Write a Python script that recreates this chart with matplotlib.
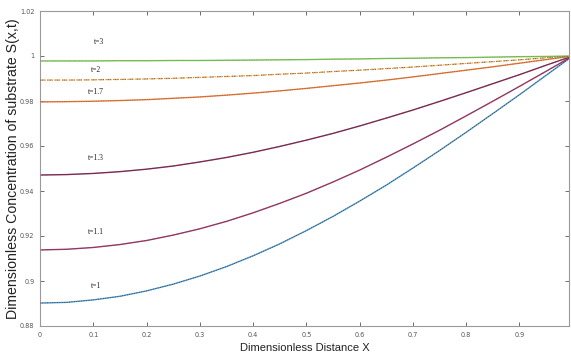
import matplotlib
matplotlib.use("Agg")
import matplotlib.pyplot as plt

# Dimensionless distance samples
x = [0.0, 0.05, 0.1, 0.15, 0.2, 0.25, 0.3, 0.35, 0.4, 0.45, 0.5,
     0.55, 0.6, 0.65, 0.7, 0.75, 0.8, 0.85, 0.9, 0.95, 1.0]

# Substrate concentration profiles S(x,t) for each time
s_t1 = [0.8902, 0.8905, 0.8916, 0.8932, 0.8956, 0.8986, 0.9022, 0.9064, 0.9112, 0.9165, 0.9224,
        0.9287, 0.9355, 0.9426, 0.9502, 0.9580, 0.9661, 0.9744, 0.9828, 0.9914, 1.0]
s_t11 = [0.9138, 0.9141, 0.9149, 0.9162, 0.9180, 0.9204, 0.9232, 0.9265, 0.9303, 0.9345, 0.9390,
         0.9440, 0.9493, 0.9550, 0.9609, 0.9670, 0.9734, 0.9799, 0.9865, 0.9932, 1.0]
s_t13 = [0.9471, 0.9473, 0.9478, 0.9486, 0.9497, 0.9511, 0.9529, 0.9549, 0.9572, 0.9598, 0.9626,
         0.9656, 0.9689, 0.9724, 0.9760, 0.9798, 0.9837, 0.9877, 0.9917, 0.9959, 1.0]
s_t17 = [0.9796, 0.9797, 0.9799, 0.9802, 0.9806, 0.9812, 0.9818, 0.9826, 0.9835, 0.9845, 0.9856,
         0.9868, 0.9880, 0.9893, 0.9907, 0.9922, 0.9937, 0.9952, 0.9968, 0.9984, 1.0]
s_t2 = [0.9893, 0.9893, 0.9894, 0.9896, 0.9898, 0.9901, 0.9905, 0.9909, 0.9913, 0.9919, 0.9924,
        0.9931, 0.9937, 0.9944, 0.9951, 0.9959, 0.9967, 0.9975, 0.9983, 0.9992, 1.0]
s_t3 = [0.9978, 0.9978, 0.9978, 0.9979, 0.9979, 0.9980, 0.9980, 0.9981, 0.9982, 0.9983, 0.9984,
        0.9986, 0.9987, 0.9989, 0.9990, 0.9992, 0.9993, 0.9995, 0.9997, 0.9998, 1.0]

labels = ["t=1", "t=1.1", "t=1.3", "t=1.7", "t=2", "t=3"]
label_x = [0.105, 0.105, 0.105, 0.105, 0.105, 0.11]
label_y = [0.8958, 0.9198, 0.9530, 0.9820, 0.9922, 1.0046]

xticks = [0, 0.1, 0.2, 0.3, 0.4, 0.5, 0.6, 0.7, 0.8, 0.9]
xticklabels = ["0", "0.1", "0.2", "0.3", "0.4", "0.5", "0.6", "0.7", "0.8", "0.9"]
yticks = [0.88, 0.9, 0.92, 0.94, 0.96, 0.98, 1.0, 1.02]
yticklabels = ["0.88", "0.9", "0.92", "0.94", "0.96", "0.98", "1", "1.02"]

series = [s_t1, s_t11, s_t13, s_t17, s_t2, s_t3]
colors = ["#4f93c4", "#8a3a66", "#6e2c52", "#e07a3c", "#eaa245", "#7bbf55"]
overlay = ["#2a2a2a", "#c0304a", "#b02848", "#a05020", "#333333", "#6aa848"]
styles = ["-", "-", "-", "-", "--", "-"]

fig = plt.figure(figsize=(5.71, 3.63), dpi=100)
ax = fig.add_axes([40 / 571, 37 / 363, 529 / 571, 315 / 363])

for s, c, oc, ls in zip(series, colors, overlay, styles):
    ax.plot(x, s, color=c, lw=1.0, ls=ls, zorder=2)
    ax.plot(x, s, color=oc, lw=0.5, ls=(0, (1, 2.5)), zorder=3)

for lab, lx, ly in zip(labels, label_x, label_y):
    ax.text(lx, ly, lab, fontsize=5.5, family="Liberation Serif",
            ha="center", va="bottom", color="#222222")

ax.set_xlim(0, 0.993)
ax.set_ylim(0.88, 1.02)
ax.set_xticks(xticks)
ax.set_xticklabels(xticklabels)
ax.set_yticks(yticks)
ax.set_yticklabels(yticklabels)
ax.tick_params(direction="in", length=3, width=0.6, labelsize=4.7,
               colors="#555555", top=True, right=True, pad=4)
for sp in ax.spines.values():
    sp.set_color("#9a9a9a")
    sp.set_linewidth(0.8)

ax.set_xlabel("Dimensionless Distance X", fontsize=8, family="Liberation Sans",
              color="#222222", labelpad=4)
ax.set_ylabel("Dimensionless Concentration of substrate S(x,t)", fontsize=10.2,
              family="Liberation Sans", color="#222222", va="center")
ax.yaxis.set_label_coords(-27 / 529, 0.5)

fig.savefig("out.png", dpi=100)
